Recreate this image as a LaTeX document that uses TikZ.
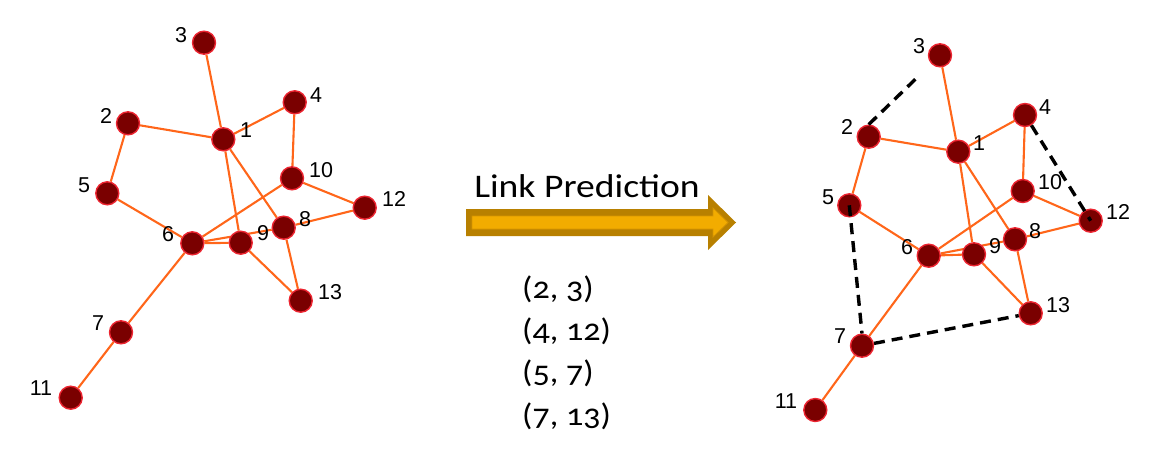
\documentclass[tikz,border=0pt]{standalone}
\usepackage{fontspec}
\setmainfont{Liberation Sans}
\newfontfamily\corb[FakeStretch=1.14]{Carlito}
\newfontfamily\corbnum[FakeStretch=1.1,Numbers=OldStyle]{Carlito}
\usetikzlibrary{backgrounds}
\definecolor{nodefill}{RGB}{122,0,0}
\definecolor{noderim}{RGB}{236,36,48}
\definecolor{edgecol}{RGB}{255,102,26}
\definecolor{arrowout}{RGB}{184,128,0}
\definecolor{arrowin}{RGB}{242,172,0}
\definecolor{arrowline}{RGB}{214,148,0}
\begin{document}
\begin{tikzpicture}[x=1pt,y=-1pt,
  vtx/.style={circle, fill=nodefill, draw=noderim, line width=1.4pt, inner sep=0pt, minimum size=23pt},
  lbl/.style={font=\fontsize{21.5}{21.5}\selectfont, inner sep=0pt},
  edge/.style={draw=edgecol, line width=2.1pt},
  pred/.style={draw=black, line width=3.4pt, dash pattern=on 11pt off 7pt}]
\useasboundingbox (0,0) rectangle (1150,449);

% ---------- left graph ----------
\node[vtx] (L1) at (223.3,139.3) {};
\node[vtx] (L2) at (128,123.3) {};
\node[vtx] (L3) at (204,42.7) {};
\node[vtx] (L4) at (294.7,102.3) {};
\node[vtx] (L5) at (107.3,193.3) {};
\node[vtx] (L6) at (192.3,243.3) {};
\node[vtx] (L7) at (121,332.3) {};
\node[vtx] (L8) at (283.7,227.7) {};
\node[vtx] (L9) at (240.7,242.7) {};
\node[vtx] (L10) at (292,178.3) {};
\node[vtx] (L11) at (70.7,397.7) {};
\node[vtx] (L12) at (364.7,207.7) {};
\node[vtx] (L13) at (300.7,300.7) {};

\node[lbl] (L1t) at (246,130) {1};
\node[lbl] (L2t) at (106,116) {2};
\node[lbl] (L3t) at (181,35) {3};
\node[lbl] (L4t) at (316,95) {4};
\node[lbl] (L5t) at (84,185) {5};
\node[lbl] (L6t) at (168,234) {6};
\node[lbl] (L7t) at (98,323) {7};
\node[lbl] (L8t) at (305,219) {8};
\node[lbl] (L9t) at (263,233) {9};
\node[lbl] (L10t) at (321,170) {10};
\node[lbl] (L11t) at (41,388) {11};
\node[lbl] (L12t) at (394,199) {12};
\node[lbl] (L13t) at (330,292) {13};

% ---------- right graph ----------
\node[vtx] (R1) at (958.3,151.7) {};
\node[vtx] (R2) at (868.7,136.7) {};
\node[vtx] (R3) at (940,55.3) {};
\node[vtx] (R4) at (1025,115) {};
\node[vtx] (R5) at (849.3,205.3) {};
\node[vtx] (R6) at (928.7,255.7) {};
\node[vtx] (R7) at (862,345.7) {};
\node[vtx] (R8) at (1015,239.3) {};
\node[vtx] (R9) at (974,254.3) {};
\node[vtx] (R10) at (1022.7,191) {};
\node[vtx] (R11) at (815.3,410) {};
\node[vtx] (R12) at (1090.7,220.7) {};
\node[vtx] (R13) at (1030.7,313.3) {};

\node[lbl] (R1t) at (979,143) {1};
\node[lbl] (R2t) at (847,127) {2};
\node[lbl] (R3t) at (919,46) {3};
\node[lbl] (R4t) at (1045,107) {4};
\node[lbl] (R5t) at (828,197) {5};
\node[lbl] (R6t) at (907,247) {6};
\node[lbl] (R7t) at (840,336) {7};
\node[lbl] (R8t) at (1035,231) {8};
\node[lbl] (R9t) at (995,246) {9};
\node[lbl] (R10t) at (1050,182) {10};
\node[lbl] (R11t) at (786,401) {11};
\node[lbl] (R12t) at (1118,212) {12};
\node[lbl] (R13t) at (1058,305) {13};

% ---------- edges (behind nodes) ----------
\begin{pgfonlayer}{background}
\foreach \s in {L,R}{
  \draw[edge] (\s3) -- (\s1);
  \draw[edge] (\s2) -- (\s1);
  \draw[edge] (\s1) -- (\s4);
  \draw[edge] (\s4) -- (\s10);
  \draw[edge] (\s2) -- (\s5);
  \draw[edge] (\s5) -- (\s6);
  \draw[edge] (\s1) -- (\s9);
  \draw[edge] (\s1) -- (\s8);
  \draw[edge] (\s10) -- (\s6);
  \draw[edge] (\s10) -- (\s12);
  \draw[edge] (\s12) -- (\s8);
  \draw[edge] (\s6) -- (\s8);
  \draw[edge] (\s6) -- (\s9);
  \draw[edge] (\s9) -- (\s13);
  \draw[edge] (\s8) -- (\s13);
  \draw[edge] (\s6) -- (\s7);
  \draw[edge] (\s7) -- (\s11);
}
\end{pgfonlayer}

% ---------- predicted links ----------
\draw[pred, shorten >=20pt] (R2.north) -- (R3);
\draw[pred] (R4) -- (R12.center);
\draw[pred] (R5.center) -- (R7.north);
\draw[pred] (R7) -- (R13);

% ---------- arrow ----------
\fill[arrowout] (466,209) -- (708,209) -- (708,195) -- (736,222.5) -- (708,250) -- (708,236) -- (466,236) -- cycle;
\filldraw[fill=arrowin, draw=arrowline, line width=0.8pt] (472,216) -- (713,216) -- (713,208) -- (728,222.5) -- (713,237) -- (713,229) -- (472,229) -- cycle;

\node[anchor=base, inner sep=0pt, font=\corb\fontsize{33}{33}\selectfont] (title) at (587,197) {Link Prediction};

% ---------- pair list ----------
\node[anchor=base west, inner sep=0pt, font=\corbnum\fontsize{31}{31}\selectfont] (p1) at (522,298) {(2, 3)};
\node[anchor=base west, inner sep=0pt, font=\corbnum\fontsize{31}{31}\selectfont] (p2) at (522,340.5) {(4, 12)};
\node[anchor=base west, inner sep=0pt, font=\corbnum\fontsize{31}{31}\selectfont] (p3) at (522,382.5) {(5, 7)};
\node[anchor=base west, inner sep=0pt, font=\corbnum\fontsize{31}{31}\selectfont] (p4) at (522,425) {(7, 13)};
\end{tikzpicture}
\end{document}
